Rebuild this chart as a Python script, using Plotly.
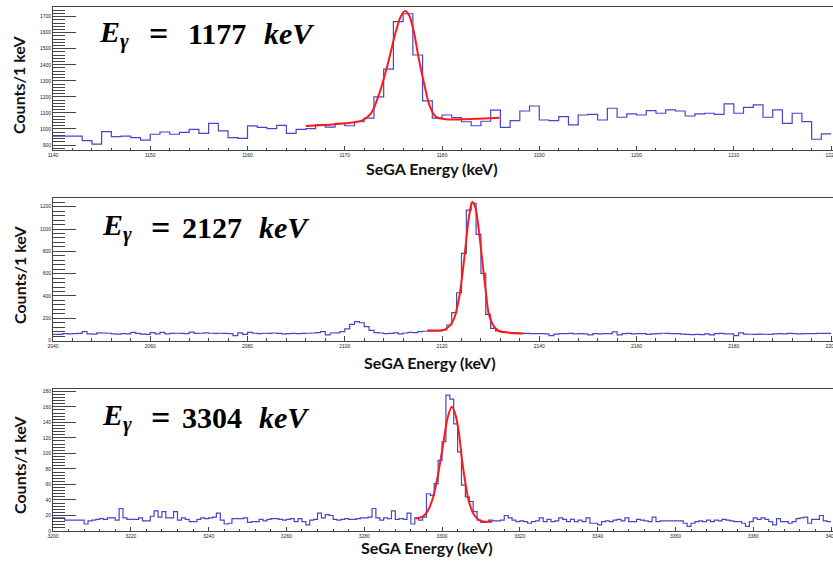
import numpy as np
import plotly.graph_objects as go

W, H = 833, 561
ML = 53                      # left margin (px) holding tick labels and y titles
PLOT_W = W - ML

# ---------------- spectra: counts per 1 keV bin ----------------
e_start_1177 = 1140
counts_1177 = [
    956, 956, 956, 927, 906, 983, 952, 956, 946, 931,
    967, 981, 967, 979, 998, 973, 1035, 988, 946, 942,
    1019, 1010, 1002, 1023, 973, 998, 1002, 1025, 1012, 1035,
    1020, 1045, 1068, 1200, 1373, 1669, 1718, 1461, 1175, 1068,
    1087, 1071, 1045, 1020, 1048, 1118, 1010, 1052, 1112, 1143,
    1056, 1052, 1077, 1025, 1087, 1091, 1056, 1129, 1073, 1094,
    1087, 1114, 1098, 1119, 1112, 1081, 1094, 1098, 1091, 1156,
    1098, 1135, 1150, 1073, 1119, 1035, 1098, 1046, 936, 969,
]

e_start_2127 = 2040
counts_2127 = [
    56, 55, 62, 60, 62, 64, 80, 60, 58, 70,
    68, 66, 60, 58, 62, 60, 74, 64, 58, 56,
    72, 60, 74, 60, 64, 66, 64, 62, 76, 64,
    66, 70, 66, 64, 66, 64, 62, 45, 70, 56,
    74, 66, 62, 66, 64, 68, 64, 60, 62, 64,
    62, 64, 66, 68, 72, 80, 52, 68, 70,
    80, 105, 145, 170, 160, 125, 92, 72, 68, 62,
    64, 70, 60, 68, 74, 72, 80, 84, 84, 86,
    88, 95, 140, 250, 429, 782, 1170, 1230, 952, 603,
    235, 110, 86, 80, 74, 71, 70,
    66, 64, 62, 63, 62, 60, 45, 58, 63, 62,
    64, 61, 63, 60, 52, 62, 60, 63, 62, 78,
    52, 62, 64, 61, 63, 62, 55, 60, 62, 66,
    64, 62, 63, 58, 55, 54, 56, 54, 60, 52,
    62, 64, 61, 60, 44, 70, 58, 57, 56, 58,
    57, 56, 60, 62, 61, 64, 63, 60, 62, 63,
    62, 64, 65, 65,
]

e_start_3304 = 3200
counts_3304 = [
    17, 17, 17, 14, 14, 14, 14, 14, 9, 13,
    14, 15, 16, 15, 17, 17, 14, 29, 17, 15,
    15, 15, 17, 13, 13, 19, 26, 18, 25, 17,
    17, 25, 14, 17, 15, 12, 12, 15, 17, 16,
    17, 18, 23, 14, 9, 10, 16, 16, 16, 17,
    11, 12, 12, 15, 13, 15, 16, 16, 15, 14,
    15, 16, 12, 16, 12, 8, 14, 15, 23, 17,
    21, 20, 15, 14, 15, 16, 15, 15, 16, 17,
    17, 18, 29, 17, 14, 17, 16, 26, 15, 16,
    15, 23, 9, 17, 14, 18, 48, 46, 61, 91,
    115, 175, 170, 138, 102, 59, 44, 38, 25, 14,
    11, 12, 14, 13, 13, 14, 20, 17, 14, 12,
    13, 12, 10, 12, 13, 17, 12, 15, 12, 13,
    17, 15, 12, 15, 12, 14, 12, 17, 10, 10,
    8, 12, 13, 12, 14, 15, 13, 17, 12, 12,
    15, 14, 13, 12, 18, 12, 13, 13, 13, 13,
    13, 13, 10, 6, 10, 12, 13, 12, 14, 12,
    14, 13, 15, 14, 13, 12, 12, 10, 6, 12,
    17, 15, 17, 15, 12, 8, 16, 12, 12, 10,
    12, 16, 17, 18, 10, 15, 15, 20, 13, 12,
]

# ---------------- fitted peak shapes (energy, counts) ----------------
fit_1177_e = [1166.0, 1168.4, 1170.1, 1171.8, 1172.7, 1173.5, 1174.4, 1175.25,
              1175.75, 1176.2, 1176.6, 1177.1, 1177.6, 1178.15, 1178.7, 1179.35,
              1180.4, 1182.1, 1183.8, 1185.9]
fit_1177_c = [1018, 1027, 1035, 1054, 1097, 1212, 1399, 1607,
              1700, 1735, 1710, 1607, 1440, 1285, 1149, 1077,
              1060, 1060, 1064, 1070]

fit_2127_e = [2117.0, 2119.0, 2120.4, 2121.4, 2122.5, 2123.5, 2124.5, 2125.5,
              2126.2, 2126.9, 2127.6, 2128.3, 2129.0, 2129.6, 2130.7, 2131.7,
              2133.1, 2135.1, 2136.8]
fit_2127_c = [92, 90, 96, 125, 200, 379, 707, 1096,
              1245, 1185, 976, 707, 438, 244, 125, 86,
              74, 65, 63]

fit_3304_e = [3293.25, 3295.0, 3296.2, 3297.5, 3298.8, 3300.1, 3301.4, 3302.5,
              3303.5, 3304.4, 3305.2, 3306.1, 3306.9, 3308.2, 3309.9, 3312.9]
fit_3304_c = [16, 18.5, 25, 40, 68, 106, 145, 160,
              149, 124, 89, 59, 38, 21, 13, 12]

peak_labels = ["1177", "2127", "3304"]

# ---------------- panel styling ----------------
panel_px = [(7, 150), (198, 340.6), (389, 531)]           # top / bottom of each frame
x_ranges = [(1140, 1220.2), (2040, 2200.4), (3200, 3400.5)]
y_ranges = [(869, 1760), (0, 1278), (0, 183)]
x_major = [10, 20, 20]
x_minor = [2, 4, 4]
y_tick0 = [900, 0, 0]
y_major = [100, 200, 20]
y_minor = [20, 40, 4]
xtitle_px = [(432, 168), (430, 362), (427, 547)]
ytitle_py = [85, 275, 465]
# left edge / vertical centre of the label pieces: E_gamma, "=", energy, unit
label_px = [
    [(97, 34), (147, 34), (186, 34), (262, 34)],
    [(100, 227), (149, 227), (180, 227), (257, 227)],
    [(100, 417), (149, 417), (180, 417), (257, 417)],
]

BLUE = "#4646c8"
RED = "#ff1a1a"
AXIS_COL = "#444444"
TICK_FONT = dict(family="Liberation Sans", size=5, color="#222222")
TITLE_FONT = dict(family="Lato", size=16, color="#111111")
MATH_FONT = dict(family="Liberation Serif", size=30, color="#000000")
EQ_FONT = dict(family="Liberation Serif", size=34, color="#000000")

spectra = [(e_start_1177, counts_1177), (e_start_2127, counts_2127), (e_start_3304, counts_3304)]
fits = [(fit_1177_e, fit_1177_c), (fit_2127_e, fit_2127_c), (fit_3304_e, fit_3304_c)]


def px_to_paper_x(px):
    return (px - ML) / PLOT_W


def px_to_paper_y(py):
    return 1 - py / H


fig = go.Figure()
annotations = []
layout_axes = {}

for i in range(3):
    xa = "x" if i == 0 else f"x{i + 1}"
    ya = "y" if i == 0 else f"y{i + 1}"
    e0, counts = spectra[i]
    vals = np.asarray(counts, dtype=float)
    edges = e0 + np.arange(len(vals) + 1)
    fig.add_trace(go.Scatter(
        x=edges, y=np.append(vals, vals[-1]), mode="lines",
        line=dict(shape="hv", color=BLUE, width=1.2),
        xaxis=xa, yaxis=ya, hoverinfo="skip", showlegend=False))
    fe, fc = fits[i]
    fig.add_trace(go.Scatter(
        x=fe, y=fc, mode="lines",
        line=dict(shape="spline", smoothing=0.8, color=RED, width=2),
        xaxis=xa, yaxis=ya, hoverinfo="skip", showlegend=False))

    top, bot = panel_px[i]
    xname = "xaxis" if i == 0 else f"xaxis{i + 1}"
    yname = "yaxis" if i == 0 else f"yaxis{i + 1}"
    layout_axes[xname] = dict(
        domain=[0, 1], anchor=ya, range=list(x_ranges[i]),
        tick0=x_ranges[i][0], dtick=x_major[i],
        ticks="inside", ticklen=4.5, tickwidth=1, tickcolor=AXIS_COL,
        minor=dict(dtick=x_minor[i], ticks="inside", ticklen=2.5, tickcolor=AXIS_COL),
        showline=True, linecolor=AXIS_COL, linewidth=1, mirror=True,
        showgrid=False, zeroline=False, tickfont=TICK_FONT,
        ticklabeloverflow="allow", automargin=False, fixedrange=True)
    layout_axes[yname] = dict(
        domain=[px_to_paper_y(bot), px_to_paper_y(top)], anchor=xa,
        range=list(y_ranges[i]), tick0=y_tick0[i], dtick=y_major[i],
        ticks="inside", ticklen=23, tickwidth=1, tickcolor=AXIS_COL,
        minor=dict(dtick=y_minor[i], ticks="inside", ticklen=11.5, tickcolor=AXIS_COL),
        showline=True, linecolor=AXIS_COL, linewidth=1,
        showgrid=False, zeroline=False, tickfont=TICK_FONT,
        automargin=False, fixedrange=True)

    # axis titles
    cx, cy = xtitle_px[i]
    annotations.append(dict(
        text="<b>SeGA Energy (keV)</b>", xref="paper", yref="paper",
        x=px_to_paper_x(cx), y=px_to_paper_y(cy), xanchor="center", yanchor="middle",
        showarrow=False, font=TITLE_FONT))
    annotations.append(dict(
        text="<b>Counts/1 keV</b>", xref="paper", yref="paper", textangle=-90,
        x=px_to_paper_x(19), y=px_to_paper_y(ytitle_py[i]), xanchor="center",
        yanchor="middle", showarrow=False, font=TITLE_FONT))

    # peak energy label
    parts = [("<b><i>E</i><sub><i>γ</i></sub></b>", MATH_FONT), ("<b>=</b>", EQ_FONT),
             (f"<b>{peak_labels[i]}</b>", MATH_FONT), ("<b><i>keV</i></b>", MATH_FONT)]
    for (text, fnt), (lx, ly) in zip(parts, label_px[i]):
        annotations.append(dict(
            text=text, xref="paper", yref="paper",
            x=px_to_paper_x(lx), y=px_to_paper_y(ly), xanchor="left",
            yanchor="middle", showarrow=False, font=fnt))

fig.update_layout(
    width=W, height=H,
    margin=dict(l=ML, r=0, t=0, b=0, pad=0),
    paper_bgcolor="white", plot_bgcolor="white",
    annotations=annotations, **layout_axes)

fig.write_html("out.html")
